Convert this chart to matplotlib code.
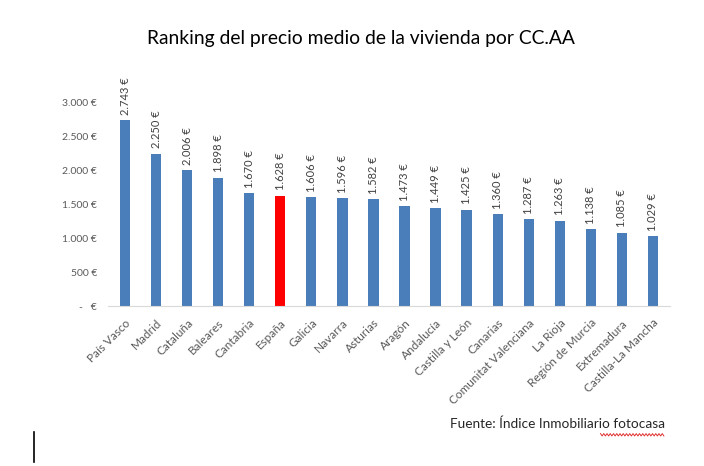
import matplotlib.pyplot as plt
from matplotlib.lines import Line2D
import numpy as np

plt.rcParams['font.family'] = ['Lato', 'DejaVu Sans']

regiones = ["País Vasco", "Madrid", "Cataluña", "Baleares", "Cantabria", "España",
            "Galicia", "Navarra", "Asturias", "Aragón", "Andalucía", "Castilla y León",
            "Canarias", "Comunitat Valenciana", "La Rioja", "Región de Murcia",
            "Extremadura", "Castilla-La Mancha"]
precios = [2743, 2250, 2006, 1898, 1670, 1628, 1606, 1596, 1582, 1473, 1449, 1425,
           1360, 1287, 1263, 1138, 1085, 1029]
yticks = [0, 500, 1000, 1500, 2000, 2500, 3000]

azul = "#4a7ebb"
rojo = "#ff0000"
gris = "#595959"


def euros(v):
    if v == 0:
        return "-   €"
    return f"{v:,.0f} €".replace(",", ".")


fig = plt.figure(figsize=(7.04, 4.66), dpi=100)
ax = fig.add_axes([0.1534, 0.3433, 0.7983, 0.4357])

colores = [rojo if r == "España" else azul for r in regiones]
x = range(len(regiones))
ax.bar(x, precios, width=0.33, color=colores)

for i, v in enumerate(precios):
    ax.text(i, v + 80, euros(v), rotation=90, ha="center", va="bottom",
            fontsize=8, color="#404040", clip_on=False)

ax.set_xlim(-0.55, len(regiones) - 0.45)
ax.set_ylim(0, 3000)
ax.set_yticks(yticks)
ax.set_yticklabels([euros(v) for v in yticks], fontsize=7.5, color=gris)
ax.set_xticks(list(x))
ax.set_xticklabels(regiones, rotation=45, ha="right", rotation_mode="anchor",
                   fontsize=8.5, color=gris)
ax.tick_params(axis="both", length=0)
ax.tick_params(axis="y", pad=8)
ax.tick_params(axis="x", pad=8)

for s in ["top", "right", "left"]:
    ax.spines[s].set_visible(False)
ax.spines["bottom"].set_color("#d9d9d9")
ax.spines["bottom"].set_linewidth(0.8)

fig.text(0.512, 0.918, "Ranking del precio medio de la vivienda por CC.AA",
         ha="center", va="center", fontsize=13.9, color="black")
fig.text(0.945, 0.09, "Fuente: Índice Inmobiliario fotocasa", ha="right",
         va="center", fontsize=9.8, color="#262626")

# subrayado ondulado del corrector bajo "fotocasa"
ox = np.linspace(0.853, 0.943, 40)
oy = 0.067 + 0.0025 * np.where(np.arange(40) % 2 == 0, 1, -1)
fig.add_artist(Line2D(ox, oy, color="#e03030", lw=0.7))

# cursor de texto
fig.add_artist(Line2D([0.048, 0.048], [0.008, 0.072], color="black", lw=1.2))

fig.savefig("out.png", dpi=100)
